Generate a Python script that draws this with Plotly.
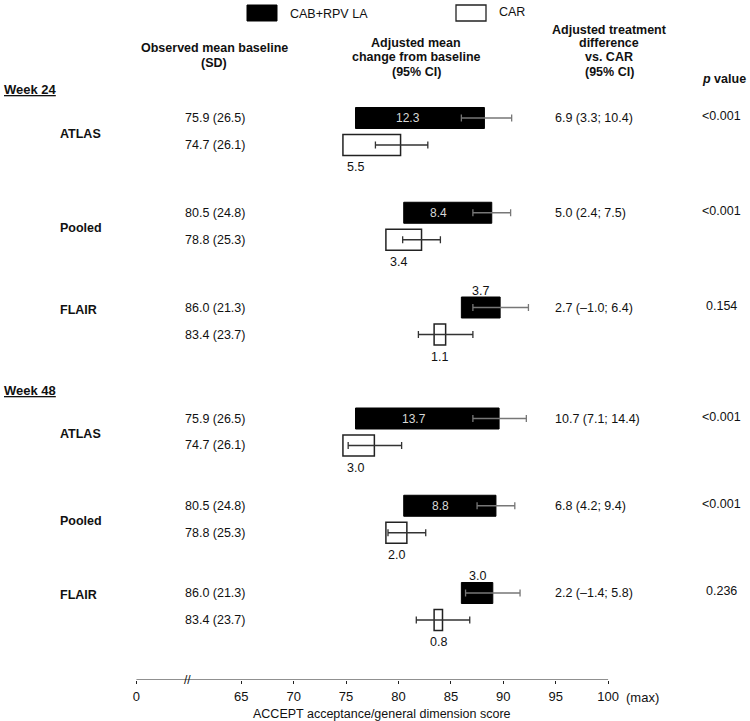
import plotly.graph_objects as go

# ---------------- data ----------------
weeks = ["Week 24", "Week 48"]
studies = ["ATLAS", "Pooled", "FLAIR"]

cab_baseline = [75.9, 80.5, 86.0, 75.9, 80.5, 86.0]
cab_sd = [26.5, 24.8, 21.3, 26.5, 24.8, 21.3]
car_baseline = [74.7, 78.8, 83.4, 74.7, 78.8, 83.4]
car_sd = [26.1, 25.3, 23.7, 26.1, 25.3, 23.7]

cab_change = [12.3, 8.4, 3.7, 13.7, 8.8, 3.0]
cab_ci_lo = [10.1, 6.6, 1.1, 11.2, 7.0, 0.4]
cab_ci_hi = [14.9, 10.2, 6.4, 16.3, 10.6, 5.6]
car_change = [5.5, 3.4, 1.1, 3.0, 2.0, 0.8]
car_ci_lo = [3.1, 1.6, -1.5, 0.5, 0.2, -1.7]
car_ci_hi = [8.1, 5.2, 3.7, 5.6, 3.8, 3.4]

diff = [6.9, 5.0, 2.7, 10.7, 6.8, 2.2]
diff_lo = [3.3, 2.4, -1.0, 7.1, 4.2, -1.4]
diff_hi = [10.4, 7.5, 6.4, 14.4, 9.4, 5.8]
p_values = ["<0.001", "<0.001", "0.154", "<0.001", "<0.001", "0.236"]

tick_vals = [55, 65, 70, 75, 80, 85, 90, 95, 100]
tick_text = ["0", "65", "70", "75", "80", "85", "90", "95", "100"]
axis_title = "ACCEPT acceptance/general dimension score"

# ---------------- layout helpers ----------------
W, H = 750, 721
AX_Y = 680                      # pixel row of the x axis
FONT = "Arial, 'Liberation Sans', sans-serif"
week_first_row = {"Week 24": 118, "Week 48": 418.5}
week_spacing = {"Week 24": 94.75, "Week 48": 87.25}
CAR_OFFSET = 27
BAR_H = 21

def fmt(v):
    s = f"{abs(v):.1f}"
    return ("\u2013" + s) if v < 0 else s

cab_y, car_y = [], []
for w in weeks:
    for i, _ in enumerate(studies):
        y = week_first_row[w] + i * week_spacing[w]
        cab_y.append(y)
        car_y.append(y + CAR_OFFSET)

def px(xp):
    return xp / W

def py(yp):
    return 1 - yp / H

fig = go.Figure()

fig.add_trace(go.Bar(
    y=cab_y, x=cab_change, base=cab_baseline, orientation="h", width=BAR_H,
    marker=dict(color="black", line=dict(color="black", width=1)),
    hoverinfo="skip"))
fig.add_trace(go.Bar(
    y=car_y, x=car_change, base=car_baseline, orientation="h", width=BAR_H,
    marker=dict(color="white", line=dict(color="#222", width=1.5)),
    hoverinfo="skip"))

cab_end = [b + c for b, c in zip(cab_baseline, cab_change)]
car_end = [b + c for b, c in zip(car_baseline, car_change)]
fig.add_trace(go.Scatter(
    x=cab_end, y=cab_y, mode="markers",
    marker=dict(size=1, color="rgba(0,0,0,0)"),
    error_x=dict(type="data", symmetric=False,
                 array=[h - c for h, c in zip(cab_ci_hi, cab_change)],
                 arrayminus=[c - l for l, c in zip(cab_ci_lo, cab_change)],
                 color="#777", thickness=1.3, width=3.5),
    hoverinfo="skip"))
fig.add_trace(go.Scatter(
    x=car_end, y=car_y, mode="markers",
    marker=dict(size=1, color="rgba(0,0,0,0)"),
    error_x=dict(type="data", symmetric=False,
                 array=[h - c for h, c in zip(car_ci_hi, car_change)],
                 arrayminus=[c - l for l, c in zip(car_ci_lo, car_change)],
                 color="#333", thickness=1.3, width=3.5),
    hoverinfo="skip"))

ann = []

def text(x, y, t, size=12.5, anchor="center", color="#111", xref="paper", yref="paper"):
    ann.append(dict(x=x, y=y, xref=xref, yref=yref, text=t, showarrow=False,
                    xanchor=anchor, yanchor="middle",
                    font=dict(family=FONT, size=size, color=color)))

# legend
shapes = [
    dict(type="rect", xref="paper", yref="paper", x0=px(247), x1=px(277), y0=py(5), y1=py(21),
         fillcolor="black", line=dict(color="black", width=1)),
    dict(type="rect", xref="paper", yref="paper", x0=px(456), x1=px(486), y0=py(5), y1=py(21),
         fillcolor="white", line=dict(color="#222", width=1.3)),
    dict(type="line", xref="x", yref="y", x0=tick_vals[0], x1=tick_vals[-1], y0=AX_Y, y1=AX_Y,
         line=dict(color="#222", width=1.2)),
]
text(px(288), py(14), "CAB+RPV LA", anchor="left")
text(px(497), py(12), "CAR", anchor="left")

# column headers
for yy, t in [(48, "Observed mean baseline"), (63, "(SD)")]:
    text(px(214), py(yy), f"<b>{t}</b>")
for yy, t in [(43, "Adjusted mean"), (57.5, "change from baseline"), (72, "(95% CI)")]:
    text(px(416), py(yy), f"<b>{t}</b>")
for yy, t in [(30, "Adjusted treatment"), (43.5, "difference"), (57, "vs. CAR"), (72, "(95% CI)")]:
    text(px(609), py(yy), f"<b>{t}</b>")
text(px(724), py(79), "<b><i>p</i> value</b>")

# week headers
for w in weeks:
    text(px(2), py(week_first_row[w] - 28), f"<b><u>{w}</u></b>", size=13, anchor="left")

# rows
for k in range(len(cab_y)):
    s = studies[k % len(studies)]
    yc, yr = cab_y[k], car_y[k]
    label_y = yc + 2 if s == "FLAIR" else (yc + yr) / 2 + 2
    text(px(58), py(label_y), f"<b>{s}</b>", size=12.5, anchor="left")
    text(px(215), py(yc), f"{cab_baseline[k]:.1f} ({cab_sd[k]:.1f})")
    text(px(215), py(yr), f"{car_baseline[k]:.1f} ({car_sd[k]:.1f})")
    text(px(553), py(yc), f"{fmt(diff[k])} ({fmt(diff_lo[k])}; {fmt(diff_hi[k])})", anchor="left")
    text(px(721), py(yc - 2), p_values[k])
    # CAB value label
    if cab_change[k] > 5:
        xl = cab_baseline[k] + cab_ci_lo[k] / 2
        text(xl, yc, f"{cab_change[k]:.1f}", size=12, color="#d8d8d8", xref="x", yref="y")
    else:
        xl = cab_baseline[k] + cab_change[k] / 2
        text(xl, yc - 17, f"{cab_change[k]:.1f}", size=12.5, xref="x", yref="y")
    # CAR value label
    xl = car_baseline[k] + min(car_change[k] / 2, 1.2)
    text(xl, yr + 22, f"{car_change[k]:.1f}", size=12.5, xref="x", yref="y")

# axis extras
text(59.9, AX_Y, "//", size=12, xref="x", yref="y")
text(101.5, py(697.5), "(max)", size=13, anchor="left", xref="x")
text(px(381.5), py(714), axis_title, size=12.5)

fig.update_layout(
    width=W, height=H, margin=dict(l=0, r=0, t=0, b=0),
    paper_bgcolor="white", plot_bgcolor="white", showlegend=False,
    barmode="overlay", annotations=ann, shapes=shapes,
    xaxis=dict(range=[41.98, 113.54], domain=[0, 1], showgrid=False, zeroline=False,
               showline=False, tickmode="array", tickvals=tick_vals, ticktext=tick_text,
               ticks="outside", ticklen=3, tickcolor="#222", tickwidth=1.2,
               tickfont=dict(family=FONT, size=13, color="#111"), ticklabelstandoff=1),
    yaxis=dict(range=[AX_Y, 0], domain=[(H - AX_Y) / H, 1], visible=False),
)

fig.write_html("out.html", config={"displayModeBar": False},
               post_script="document.body.style.margin='0px';")
